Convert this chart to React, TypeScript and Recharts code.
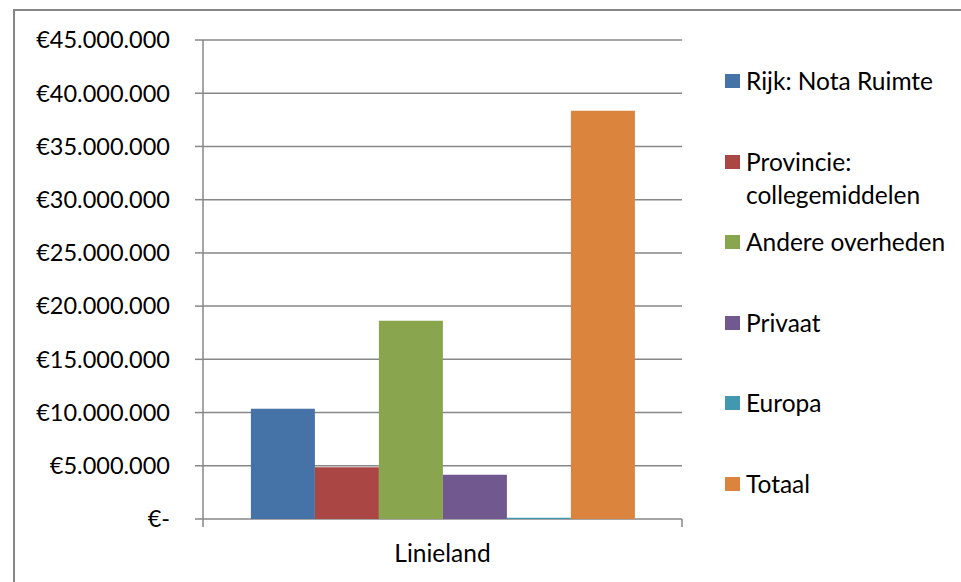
import { Bar, BarChart, CartesianGrid, Legend, XAxis, YAxis } from 'recharts'

const categories = ['Linieland']
const seriesNames = [
  'Rijk: Nota Ruimte',
  'Provincie: collegemiddelen',
  'Andere overheden',
  'Privaat',
  'Europa',
  'Totaal',
]
const seriesColors = ['#4572A7', '#AA4643', '#89A54E', '#71588F', '#4198AF', '#DB843D']
const rijkValues = [10350000]
const provincieValues = [4850000]
const andereValues = [18630000]
const privaatValues = [4160000]
const europaValues = [120000]
const totaalValues = [38360000]
const yTicks = [0, 5000000, 10000000, 15000000, 20000000, 25000000, 30000000, 35000000, 40000000, 45000000]

const seriesValues = [rijkValues, provincieValues, andereValues, privaatValues, europaValues, totaalValues]

const data = categories.map((name, i) => {
  const row: Record<string, string | number> = { name }
  seriesNames.forEach((s, j) => {
    row[s] = seriesValues[j][i]
  })
  return row
})

const FONT = 'Lato, "Open Sans", sans-serif'
const LINE = '#878787'

const euro = (v: number) =>
  v === 0 ? '€-' : '€' + String(v).replace(/\B(?=(\d{3})+(?!\d))/g, '.')

function CategoryTick(props: any) {
  const { x, y, width, payload } = props
  const half = width ? width / categories.length / 2 : 0
  return (
    <g>
      {half > 0 && (
        <>
          <line x1={x - half} y1={y} x2={x - half} y2={y + 8} stroke={LINE} strokeWidth={1.5} />
          <line x1={x + half} y1={y} x2={x + half} y2={y + 8} stroke={LINE} strokeWidth={1.5} />
        </>
      )}
      <text x={x} y={y + 43} textAnchor="middle" fill="#000" fontSize={24.5} fontFamily={FONT}>
        {payload.value}
      </text>
    </g>
  )
}

function LegendList() {
  return (
    <ul style={{ margin: 0, padding: '64px 0 0 43px', listStyle: 'none', fontFamily: FONT }}>
      {seriesNames.map((name, i) => (
        <li key={name} style={{ display: 'flex', alignItems: 'flex-start', height: 80.5 }}>
          <span
            style={{
              display: 'inline-block',
              width: 15,
              height: 14,
              marginTop: 10,
              marginRight: 6,
              background: seriesColors[i],
              flexShrink: 0,
            }}
          />
          <span style={{ fontSize: 24.5, lineHeight: '33px', color: '#000', width: 213 }}>{name}</span>
        </li>
      ))}
    </ul>
  )
}

export default function App() {
  return (
    <div style={{ position: 'fixed', left: 0, top: 0, width: 961, height: 582, overflow: 'hidden', background: '#fff' }}>
      <div
        style={{
          position: 'absolute',
          left: 13,
          top: 9,
          width: 1000,
          height: 700,
          border: `2px solid ${LINE}`,
        }}
      />
      <div style={{ position: 'absolute', left: 0, top: 0 }}>
        <BarChart
          width={961}
          height={582}
          data={data}
          margin={{ top: 40, right: 0, left: 0, bottom: 0 }}
          barCategoryGap="10%"
          barGap={0}
        >
          <CartesianGrid vertical={false} stroke={LINE} strokeWidth={1.5} />
          <XAxis
            dataKey="name"
            height={63}
            axisLine={false}
            tickLine={false}
            tickSize={0}
            tickMargin={0}
            tick={<CategoryTick />}
            interval={0}
          />
          <YAxis
            width={203}
            domain={[0, 45000000]}
            ticks={yTicks}
            interval={0}
            tickFormatter={euro}
            axisLine={{ stroke: LINE, strokeWidth: 1.5 }}
            tickLine={{ stroke: LINE, strokeWidth: 1.5 }}
            tickSize={8}
            tickMargin={25}
            tick={{ fill: '#000', fontSize: 23.5, fontFamily: FONT }}
          />
          <Legend
            layout="vertical"
            align="right"
            verticalAlign="top"
            content={<LegendList />}
            wrapperStyle={{ width: 279, top: 0, right: 0 }}
          />
          {seriesNames.map((s, i) => (
            <Bar key={s} dataKey={s} fill={seriesColors[i]} isAnimationActive={false} />
          ))}
        </BarChart>
      </div>
    </div>
  )
}
